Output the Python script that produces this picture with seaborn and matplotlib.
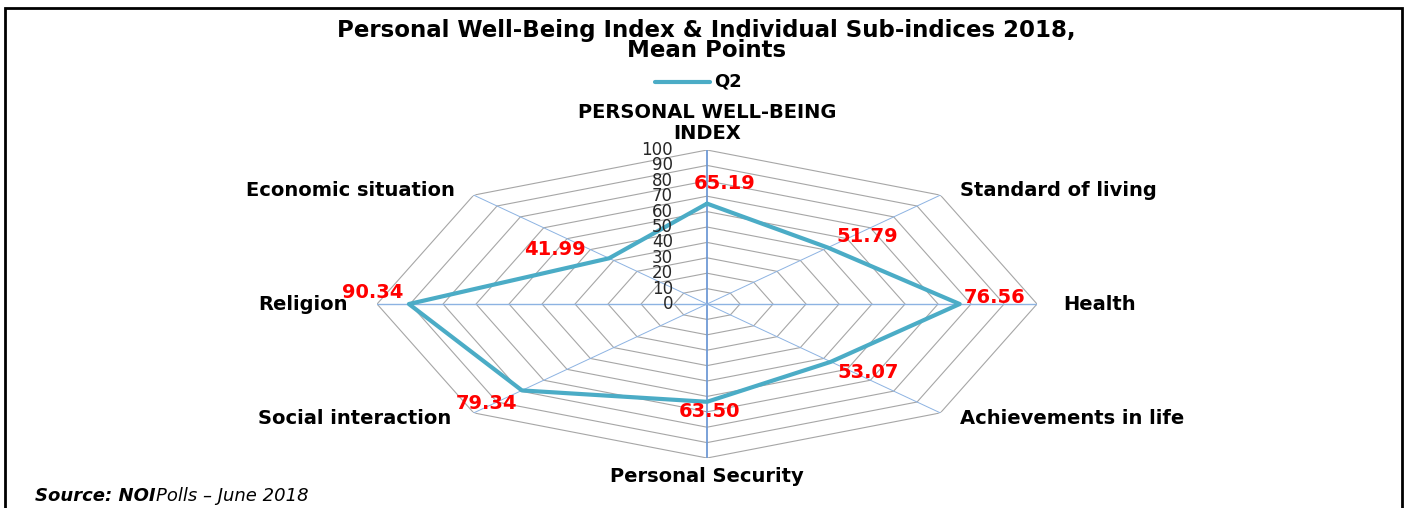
import numpy as np
import seaborn as sns
import matplotlib.pyplot as plt
from matplotlib.patches import Rectangle

# data
categories = ["PERSONAL WELL-BEING\nINDEX", "Standard of living", "Health",
              "Achievements in life", "Personal Security", "Social interaction",
              "Religion", "Economic situation"]
q2_values = [65.19, 51.79, 76.56, 53.07, 63.50, 79.34, 90.34, 41.99]
grid_levels = [0, 10, 20, 30, 40, 50, 60, 70, 80, 90, 100]
series_name = "Q2"

# label placement (pixel offsets from the point / outer vertex)
value_offsets = [(18, 20), (39, 11), (35, 7), (37, -11), (2, -10), (-35, -13), (-36, 12), (-54, 9)]
cat_offsets = [(0, 27), (20, 5), (26, 0), (20, -6), (0, -18), (-22, -6), (-29, 0), (-19, 5)]
cat_ha = ["center", "left", "left", "left", "center", "right", "right", "right"]

line_color = "#4bacc6"
grid_color = "#a6a6a6"
spoke_color = "#8db3e2"

sns.set_style("white")
plt.rcParams["font.family"] = ["DejaVu Sans"]
plt.rcParams["text.color"] = "black"

fig = plt.figure(figsize=(14.09, 5.08), dpi=100)
ax = fig.add_axes([0.2676, 0.0984, 0.4684, 0.6063], projection="polar")
ax.set_aspect("auto")
ax.set_theta_zero_location("N")
ax.set_theta_direction(-1)
ax.set_ylim(0, 100)
ax.grid(False)
ax.set_xticks([])
ax.set_yticks([])
ax.spines["polar"].set_visible(False)
ax.patch.set_alpha(0)

n = len(categories)
angles = np.linspace(0, 2 * np.pi, n, endpoint=False)
closed_angles = np.append(angles, 2 * np.pi)

# octagon grid
for lvl in grid_levels[1:]:
    ax.plot(closed_angles, [lvl] * (n + 1), color=grid_color, lw=0.8, zorder=1)

# spokes
for i, a in enumerate(angles):
    main = i in (0, 2, 4, 6)
    ax.plot([a, a], [0, 100], color="#6f9ad6" if i in (0, 4) else spoke_color,
            lw=1.3 if i in (0, 4) else (1.0 if main else 0.7), zorder=2)

# series
df_vals = np.append(q2_values, q2_values[0])
sns.lineplot(x=closed_angles, y=df_vals, sort=False, estimator=None, ax=ax,
             color=line_color, lw=3, zorder=3, legend=False)

# radial tick labels
for lvl in grid_levels:
    ax.annotate(str(lvl), xy=(0, lvl), xytext=(-34, 0), textcoords="offset pixels",
                ha="right", va="center", fontsize=12, color="#262626",
                annotation_clip=False)

# value labels
for a, v, off in zip(angles, q2_values, value_offsets):
    ax.annotate(f"{v:.2f}", xy=(a, v), xytext=off, textcoords="offset pixels",
                ha="center", va="center", fontsize=14, fontweight="bold",
                color="#ff0000", zorder=4, annotation_clip=False)

# category labels
for a, c, off, ha in zip(angles, categories, cat_offsets, cat_ha):
    ax.annotate(c, xy=(a, 100), xytext=off, textcoords="offset pixels",
                ha=ha, va="center", fontsize=14, fontweight="bold",
                color="black", linespacing=1.1, annotation_clip=False)

# title and legend
fig.text(0.5015, 0.940, "Personal Well-Being Index & Individual Sub-indices 2018,",
         ha="center", va="center", fontsize=16.5, fontweight="bold")
fig.text(0.5015, 0.900, "Mean Points", ha="center", va="center", fontsize=16.5, fontweight="bold")
fig.lines.append(plt.Line2D([655 / 1409, 710 / 1409], [1 - 82 / 508, 1 - 82 / 508],
                            transform=fig.transFigure, color=line_color, lw=3))
fig.text(714 / 1409, 1 - 82 / 508, series_name, ha="left", va="center",
         fontsize=13, fontweight="bold")

# source note
src = fig.text(35 / 1409, 1 - 496 / 508, "Source: NOI", ha="left", va="center",
               fontsize=13, fontweight="bold", style="italic")
ax.annotate("Polls \u2013 June 2018", xy=(1, 0), xycoords=src, ha="left", va="bottom",
            fontsize=13, style="italic", annotation_clip=False)

# outer frame
fig.patches.append(Rectangle((5 / 1409, -0.02), 1397 / 1409, 1 - 8 / 508 + 0.02,
                             transform=fig.transFigure, fill=False, lw=2,
                             edgecolor="black"))

fig.savefig("out.png", dpi=100)
